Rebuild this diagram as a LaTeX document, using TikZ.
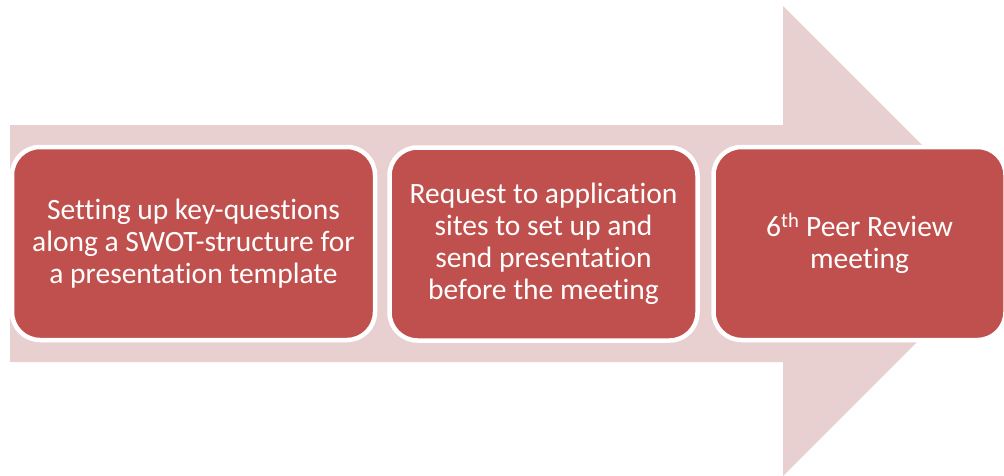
\documentclass[tikz,border=0pt]{standalone}
\usepackage{fontspec}
\setmainfont[Ligatures=NoCommon]{Carlito}
\definecolor{stepred}{RGB}{192,80,77}
\definecolor{arrowpink}{RGB}{232,208,209}
\tikzset{stepbox/.style={draw=white, line width=4.5pt, fill=stepred, rounded corners=28pt,
  minimum height=193pt, text=white, align=center, inner sep=0pt,
  font=\fontsize{29.5}{32}\selectfont}}
\tikzset{bigarrow/.style={fill=arrowpink, draw=none}}

\begin{document}
\begin{tikzpicture}[x=1pt,y=-1pt]
                \useasboundingbox (0,0) rectangle (1004,475);
                % background arrow
                \fill[bigarrow] (10,125) -- (783,125) -- (783,6) -- (1018,241)
                    -- (783,476) -- (783,362) -- (10,362) -- cycle;
                % steps
                \node[stepbox,minimum width=363pt] (setup) at (193.5,243.5) {Setting up key-questions\\along a SWOT-structure for\\a presentation template};
                \node[stepbox,minimum width=308pt] (request) at (543.5,244) {Request to application\\sites to set up and\\send presentation\\before the meeting};
                \node[stepbox,minimum width=292pt] (meeting) at (859.5,243.5) {6\textsuperscript{th} Peer Review\\meeting};
            \end{tikzpicture}
\end{document}
